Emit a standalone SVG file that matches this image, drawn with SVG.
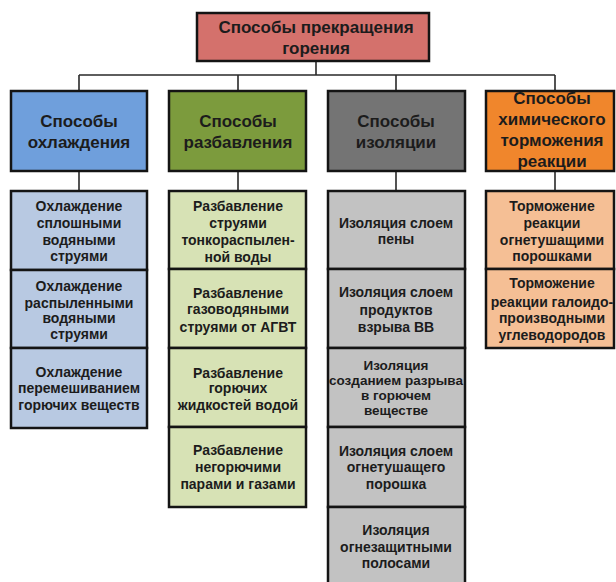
<svg xmlns="http://www.w3.org/2000/svg" width="616" height="582" viewBox="0 0 616 582">
<style>
.box{stroke:#141414;stroke-width:2.5}
.t{font-family:"Liberation Sans",Arial,sans-serif;font-weight:bold;fill:#1c1c1c;text-anchor:middle}
.h{font-size:17px}
.s{font-size:14px}
.s2{font-size:13.5px}
.ln{stroke:#2a2a2a;stroke-width:1.6;fill:none}
.red{fill:#d4716c}.blue{fill:#6f9fdc}.green{fill:#7c9b3d}.gray{fill:#747474}.orange{fill:#f0862c}
.lblue{fill:#b8c9e2}.lgreen{fill:#d7e2b5}.lgray{fill:#c2c2c2}.lorange{fill:#f5bf95}
</style>
<rect width="616" height="582" fill="#fff"/>
<g id="connectors">
<path class="ln" d="M316 61V75M79 75H555M79 75V91M238 75V91M396 75V91M555 75V91"/>
<path class="ln" d="M79 171V191M238 171V191M396 171V191M555 171V191"/>
</g>
<g id="root">
<rect class="box red" x="197" y="13" width="232" height="48"/>
<text class="t h" x="316" y="33">Способы прекращения</text>
<text class="t h" x="316" y="54">горения</text>
</g>
<g id="cat-cooling">
<rect class="box blue" x="11" y="91" width="136" height="80"/>
<text class="t h" x="79" y="127">Способы</text>
<text class="t h" x="79" y="148">охлаждения</text>
</g>
<g id="cat-dilution">
<rect class="box green" x="169" y="91" width="137" height="80"/>
<text class="t h" x="238" y="127">Способы</text>
<text class="t h" x="238" y="148">разбавления</text>
</g>
<g id="cat-isolation">
<rect class="box gray" x="328" y="91" width="137" height="80"/>
<text class="t h" x="396" y="127">Способы</text>
<text class="t h" x="396" y="148">изоляции</text>
</g>
<g id="cat-chem">
<rect class="box orange" x="486" y="91" width="128" height="80"/>
<text class="t h" x="552" y="104">Способы</text>
<text class="t h" x="552" y="125">химического</text>
<text class="t h" x="552" y="146">торможения</text>
<text class="t h" x="552" y="167">реакции</text>
</g>
<g id="c1">
<rect class="box lblue" x="11" y="191" width="136" height="79"/>
<text class="t s" x="79" y="211">Охлаждение</text>
<text class="t s" x="79" y="228">сплошными</text>
<text class="t s" x="79" y="245">водяными</text>
<text class="t s" x="79" y="261">струями</text>
</g>
<g id="c2">
<rect class="box lblue" x="11" y="270" width="136" height="78"/>
<text class="t s" x="79" y="291">Охлаждение</text>
<text class="t s" x="79" y="308">распыленными</text>
<text class="t s" x="79" y="323">водяными</text>
<text class="t s" x="79" y="339">струями</text>
</g>
<g id="c3">
<rect class="box lblue" x="11" y="348" width="136" height="80"/>
<text class="t s" x="79" y="377">Охлаждение</text>
<text class="t s" x="79" y="393">перемешиванием</text>
<text class="t s" x="79" y="410">горючих веществ</text>
</g>
<g id="d1">
<rect class="box lgreen" x="169" y="191" width="137" height="78"/>
<text class="t s" x="238" y="211">Разбавление</text>
<text class="t s" x="238" y="228">струями</text>
<text class="t s" x="238" y="245">тонкораспылен-</text>
<text class="t s" x="238" y="262">ной воды</text>
</g>
<g id="d2">
<rect class="box lgreen" x="169" y="269" width="137" height="79"/>
<text class="t s" x="238" y="298">Разбавление</text>
<text class="t s" x="238" y="314">газоводяными</text>
<text class="t s" x="238" y="332">струями от АГВТ</text>
</g>
<g id="d3">
<rect class="box lgreen" x="169" y="348" width="137" height="79"/>
<text class="t s" x="238" y="378">Разбавление</text>
<text class="t s" x="238" y="393">горючих</text>
<text class="t s" x="238" y="410">жидкостей водой</text>
</g>
<g id="d4">
<rect class="box lgreen" x="169" y="427" width="137" height="80"/>
<text class="t s" x="238" y="455">Разбавление</text>
<text class="t s" x="238" y="472">негорючими</text>
<text class="t s" x="238" y="489">парами и газами</text>
</g>
<g id="i1">
<rect class="box lgray" x="328" y="191" width="137" height="78"/>
<text class="t s" x="396" y="228">Изоляция слоем</text>
<text class="t s" x="396" y="244">пены</text>
</g>
<g id="i2">
<rect class="box lgray" x="328" y="269" width="137" height="79"/>
<text class="t s" x="396" y="297">Изоляция слоем</text>
<text class="t s" x="396" y="315">продуктов</text>
<text class="t s" x="396" y="332">взрыва ВВ</text>
</g>
<g id="i3">
<rect class="box lgray" x="328" y="348" width="137" height="79"/>
<text class="t s2" x="396" y="370">Изоляция</text>
<text class="t s2" x="396" y="385">созданием разрыва</text>
<text class="t s2" x="396" y="400">в горючем</text>
<text class="t s2" x="396" y="415">веществе</text>
</g>
<g id="i4">
<rect class="box lgray" x="328" y="427" width="137" height="80"/>
<text class="t s" x="396" y="456">Изоляция слоем</text>
<text class="t s" x="396" y="472">огнетушащего</text>
<text class="t s" x="396" y="489">порошка</text>
</g>
<g id="i5">
<rect class="box lgray" x="328" y="507" width="137" height="80"/>
<text class="t s" x="396" y="535">Изоляция</text>
<text class="t s" x="396" y="552">огнезащитными</text>
<text class="t s" x="396" y="568">полосами</text>
</g>
<g id="h1">
<rect class="box lorange" x="486" y="191" width="128" height="78"/>
<text class="t s" x="552" y="211">Торможение</text>
<text class="t s" x="552" y="228">реакции</text>
<text class="t s" x="552" y="245">огнетушащими</text>
<text class="t s" x="552" y="261">порошками</text>
</g>
<g id="h2">
<rect class="box lorange" x="486" y="269" width="128" height="79"/>
<text class="t s" x="552" y="288">Торможение</text>
<text class="t s" x="552" y="307">реакции галоидо-</text>
<text class="t s" x="552" y="323">производными</text>
<text class="t s" x="552" y="340">углеводородов</text>
</g>
</svg>
